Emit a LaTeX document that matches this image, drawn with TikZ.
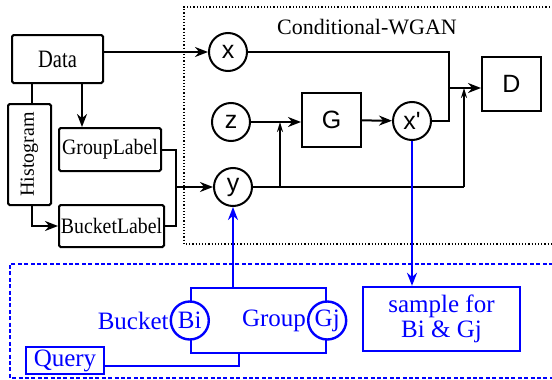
\documentclass[tikz,border=0pt]{standalone}
\usepackage{graphicx}
\usepackage{fontspec}
\setmainfont{Liberation Serif}
\newfontfamily\narrowserif[FakeStretch=0.9]{Liberation Serif}
\newfontfamily\narrowerserif[FakeStretch=0.82]{Liberation Serif}
\newfontfamily\circlefont{Liberation Sans}
\usetikzlibrary{arrows.meta}

\begin{document}
\begin{tikzpicture}[x=0.5pt,y=-0.5pt,line width=1pt,
    >={Stealth[length=6.5pt,width=5pt]},
    box/.style={draw,rounded corners=0.8pt,inner sep=0pt,font=\narrowserif\fontsize{11}{13}\selectfont},
    var/.style={draw,circle,minimum size=19pt,inner sep=0pt,font=\circlefont\fontsize{12.5}{14}\selectfont},
    net/.style={draw,minimum width=29.5pt,minimum height=27pt,font=\circlefont\fontsize{12.5}{14}\selectfont},
    qbox/.style={draw=blue,text=blue,line width=1.2pt,inner sep=0pt,font=\fontsize{12.5}{12.5}\selectfont},
    qvar/.style={qbox,circle,fill=white,minimum size=19pt},
    qtext/.style={text=blue,inner sep=0pt,font=\fontsize{12.5}{14}\selectfont},
    tinyarrow/.style={-{Stealth[length=5pt,width=3pt]}}]
    \useasboundingbox (0,0) rectangle (552,380);
    % frames
    \draw[densely dotted,line width=0.6pt] (553,7) -- (184,7) -- (184,244) -- (553,244);
    \draw[blue,dash pattern=on 2pt off 1.2pt] (553,264) -- (10,264) -- (10,378) -- (553,378);
    \node[font=\fontsize{11}{13}\selectfont] (title) at (367,27) {Conditional-WGAN};
    % data preparation
    \node[box,minimum width=45.5pt,minimum height=24pt,font=\narrowerserif\fontsize{12.5}{14}\selectfont] (data) at (57.5,59) {Data};
    \node[box,minimum width=21.5pt,minimum height=50.5pt,font=\fontsize{10}{12}\selectfont] (hist) at (29.5,154.5) {\rotatebox{90}{Histogram}};
    \node[box,minimum width=51pt,minimum height=21.5pt] (grp) at (110,149.5) {GroupLabel};
    \node[box,minimum width=52.5pt,minimum height=21pt] (bkt) at (111.5,226) {BucketLabel};
    % variables and networks
    \node[var] (x) at (228,52) {x};
    \node[var] (z) at (231,122) {z};
    \node[var] (y) at (233,187) {y};
    \node[var] (xg) at (412,121) {x\textquotesingle};
    \node[net] (G) at (331.5,120) {G};
    \node[net] (D) at (511.5,84) {D};
    % helper points
    \coordinate (merge) at (176,187);
    \coordinate (join) at (449,88);
    \coordinate (ytap) at (464,187);
    \coordinate (ybranch) at (280,187);
    % data flow
    \draw[->] (data.east |- x) -- (x);
    \draw ([xshift=-13pt]data.south) -- ([xshift=-13pt]data.south |- hist.north);
    \draw[->] ([xshift=12.25pt]data.south) -- ([xshift=12.25pt]data.south |- grp.north);
    \draw[->] ([xshift=1pt]hist.south) |- (bkt.west);
    \draw (grp.east) -| (merge) |- (bkt.east);
    \draw[->] (merge) -- (y);
    % gan
    \draw (x) -| (join);
    \draw (xg) -| (join);
    \draw[->] (join) -- (join -| D.west);
    \draw (y) -- (ytap);
    \draw[tinyarrow] (ytap) -- (ytap |- join);
    \draw[tinyarrow] (ybranch) -- (ybranch |- z);
    \draw[->] (z) -- (z -| G.west);
    \draw[->] (G) -- (xg);
    % query
    \node[qbox,minimum width=67.5pt,minimum height=32.5pt] (pair) at (258.5,320.5) {};
    \node[qvar] (bi) at (pair.west) {Bi};
    \node[qvar] (gj) at (pair.east) {Gj};
    \node[qtext,anchor=east] (bucket) at (bi.west) {Bucket};
    \node[qtext,anchor=east] (group) at (gj.west) {Group};
    \node[qbox,minimum width=39pt,minimum height=13.5pt] (query) at (65,360.5) {Query};
    \node[qbox,align=center,minimum width=78.5pt,minimum height=32pt] (sample) at (441.5,319) {sample for\\Bi \& Gj};
    \draw[blue,->,line width=1.4pt] (y.south |- pair.north) -- (y.south);
    \draw[blue,->,line width=1.2pt] (xg.south) -- (xg.south |- sample.north);
    \draw[blue,line width=1.2pt] ([yshift=-2.75pt]query.east) -| ([xshift=-9.75pt]pair.south);
\end{tikzpicture}
\end{document}
